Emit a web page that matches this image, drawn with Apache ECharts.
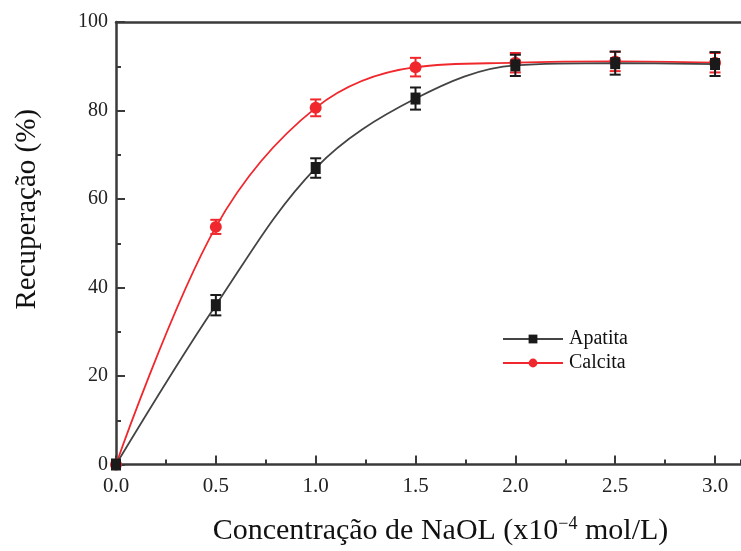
<!DOCTYPE html>
<html>
<head>
<meta charset="utf-8">
<script src="https://cdn.jsdelivr.net/npm/echarts@6/dist/echarts.min.js"></script>
<style>
  html, body { margin: 0; padding: 0; background: #fff; }
  #chart { width: 741px; height: 551px; }
</style>
</head>
<body>
<div id="chart"></div>
<script>
// concentração de NaOL (x10^-4 mol/L)
const conc = [0, 0.5, 1.0, 1.5, 2.0, 2.5, 3.0];
// recuperação (%)
const apatita = [0, 36, 67, 82.7, 90.2, 90.7, 90.5];
const apatitaErr = [0, 2.3, 2.2, 2.5, 2.4, 2.6, 2.7];
const calcita = [0, 53.7, 80.6, 89.8, 90.8, 91.1, 90.8];
const calcitaErr = [0, 1.6, 1.9, 2.1, 2.2, 2.2, 2.2];

const serif = '"Liberation Serif", "DejaVu Serif", serif';
const axisColor = '#3a3a3a';

function pairs(xs, ys) {
  return xs.map((x, i) => [x, ys[i]]);
}
function errRows(xs, ys, es) {
  const out = [];
  xs.forEach((x, i) => {
    if (es[i] > 0) out.push([x, ys[i] - es[i], ys[i] + es[i]]);
  });
  return out;
}
// barra de erro: linha vertical + tampas
function errBar(color) {
  return function (params, api) {
    const x = api.value(0);
    const lo = api.coord([x, api.value(1)]);
    const hi = api.coord([x, api.value(2)]);
    const w = 5.5;
    const st = { stroke: color, lineWidth: 2 };
    return {
      type: 'group',
      children: [
        { type: 'line', shape: { x1: lo[0], y1: lo[1], x2: hi[0], y2: hi[1] }, style: st },
        { type: 'line', shape: { x1: lo[0] - w, y1: lo[1], x2: lo[0] + w, y2: lo[1] }, style: st },
        { type: 'line', shape: { x1: hi[0] - w, y1: hi[1], x2: hi[0] + w, y2: hi[1] }, style: st }
      ]
    };
  };
}

let myChart = echarts.init(document.getElementById('chart'));
myChart.setOption({
  animation: false,
  backgroundColor: '#fff',
  grid: { left: 116, right: 0, top: 22, bottom: 84 },
  legend: {
    orient: 'vertical',
    left: 497,
    top: 324,
    itemWidth: 60,
    itemHeight: 11,
    itemGap: 4,
    textStyle: { fontFamily: serif, fontSize: 20, color: '#111', padding: [0, 0, 0, 1] },
    data: ['Apatita', 'Calcita']
  },
  xAxis: [
    {
      type: 'value',
      min: 0,
      max: 3.13,
      interval: 0.5,
      position: 'bottom',
      name: 'Concentração de NaOL (x10{sup|−4} mol/L)',
      nameLocation: 'middle',
      nameGap: 51,
      nameTextStyle: {
        fontFamily: serif, fontSize: 30, color: '#111', padding: [0, 0, 0, 24],
        rich: { sup: { fontFamily: serif, fontSize: 18, color: '#111', padding: [0, 0, 13, 0] } }
      },
      axisLine: { show: true, lineStyle: { color: axisColor, width: 2.5 } },
      axisTick: { show: true, inside: true, length: 9, lineStyle: { color: axisColor, width: 2 } },
      axisLabel: {
        fontFamily: serif, fontSize: 21, color: '#222', margin: 11,
        showMaxLabel: false,
        formatter: v => v.toFixed(1)
      },
      splitLine: { show: false }
    },
    {
      // marcas menores
      type: 'value',
      min: 0,
      max: 3.13,
      interval: 0.25,
      position: 'bottom',
      axisLine: { show: false },
      axisTick: { show: true, inside: true, length: 5, lineStyle: { color: axisColor, width: 2 } },
      axisLabel: { show: false },
      splitLine: { show: false }
    },
    {
      type: 'value',
      min: 0,
      max: 3.13,
      position: 'top',
      axisLine: { show: true, lineStyle: { color: axisColor, width: 2.5 } },
      axisTick: { show: false },
      axisLabel: { show: false },
      splitLine: { show: false }
    }
  ],
  yAxis: {
    type: 'value',
    min: 0,
    max: 100,
    interval: 20,
    name: 'Recuperação (%)',
    nameLocation: 'middle',
    nameGap: 74,
    nameTextStyle: { fontFamily: serif, fontSize: 29, color: '#111', padding: [0, 0, 0, 68] },
    axisLine: { show: true, lineStyle: { color: axisColor, width: 2.5 } },
    axisTick: { show: true, inside: true, length: 9, lineStyle: { color: axisColor, width: 2 } },
    minorTick: { show: true, splitNumber: 2, length: 5, lineStyle: { color: axisColor, width: 2 } },
    axisLabel: { fontFamily: serif, fontSize: 20, color: '#222', margin: 8 },
    splitLine: { show: false }
  },
  series: [
    {
      name: 'Calcita',
      type: 'line',
      data: pairs(conc, calcita),
      smooth: 0.35,
      symbol: 'circle',
      symbolSize: 12,
      color: '#f0282d',
      lineStyle: { color: '#f0282d', width: 1.8 },
      z: 3
    },
    {
      name: 'Apatita',
      type: 'line',
      data: pairs(conc, apatita),
      smooth: 0.35,
      symbol: 'rect',
      symbolSize: [10, 12],
      color: '#1a1a1a',
      lineStyle: { color: '#444', width: 1.8 },
      z: 4
    },
    {
      name: 'Calcita',
      type: 'custom',
      renderItem: errBar('#f0282d'),
      data: errRows(conc, calcita, calcitaErr),
      encode: { x: 0, y: [1, 2] },
      z: 3
    },
    {
      name: 'Apatita',
      type: 'custom',
      renderItem: errBar('#1a1a1a'),
      data: errRows(conc, apatita, apatitaErr),
      encode: { x: 0, y: [1, 2] },
      z: 4
    }
  ]
});
</script>
</body>
</html>
